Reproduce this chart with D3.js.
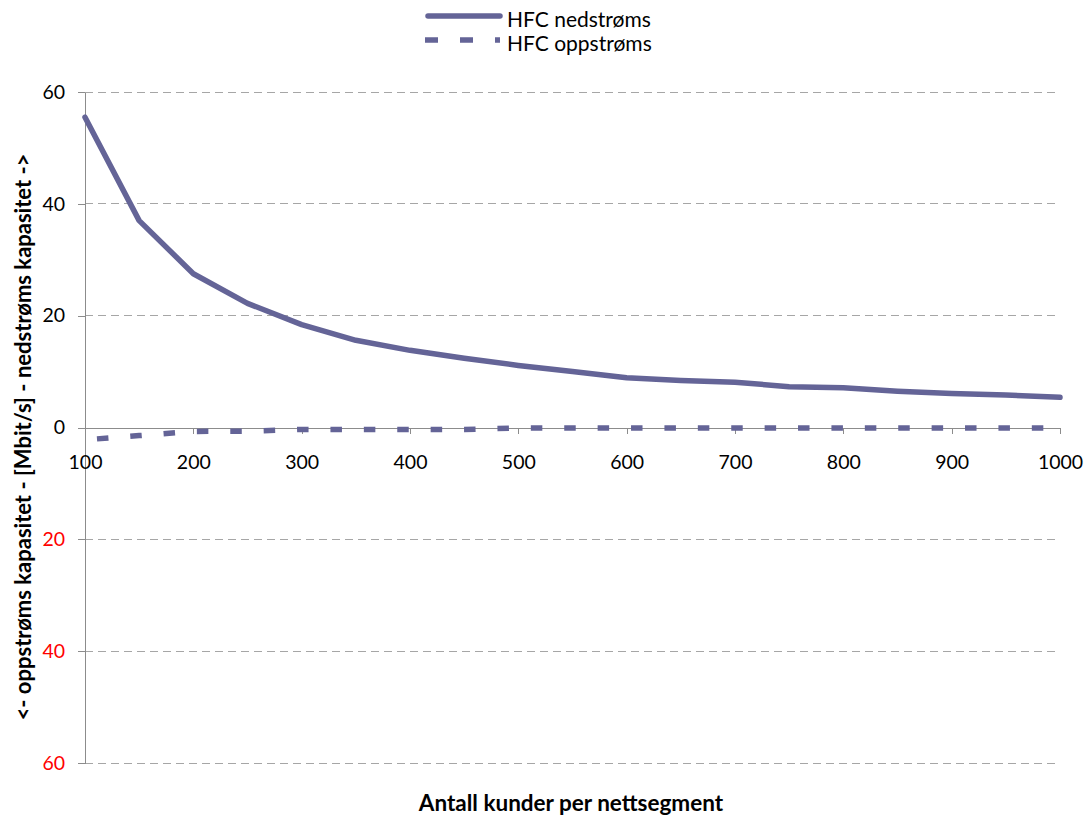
<!DOCTYPE html>
<html>
<head>
<meta charset="utf-8">
<script src="https://cdn.jsdelivr.net/npm/d3@7/dist/d3.min.js"></script>
<style>
  html, body { margin: 0; padding: 0; background: #ffffff; }
  svg { display: block; }
  text { font-family: Lato, "Open Sans", "Liberation Sans", sans-serif; }
</style>
</head>
<body>
<svg id="chart" width="1087" height="816"></svg>
<script>
// Customers per network segment
const customers = [100, 150, 200, 250, 300, 350, 400, 450, 500, 550, 600, 650, 700, 750, 800, 850, 900, 950, 1000];
// Downstream capacity per customer (Mbit/s)
const downstream = [55.5, 37.0, 27.5, 22.2, 18.4, 15.6, 13.8, 12.4, 11.1, 10.0, 8.9, 8.4, 8.1, 7.3, 7.1, 6.5, 6.1, 5.8, 5.4];
// Upstream capacity per customer (Mbit/s), drawn below zero
const upstream = [-2.2, -1.45, -0.7, -0.65, -0.35, -0.35, -0.35, -0.35, -0.1, -0.1, -0.1, -0.1, -0.1, -0.1, -0.1, -0.1, -0.1, -0.1, -0.1];
const xTicks = [100, 200, 300, 400, 500, 600, 700, 800, 900, 1000];
const yTicks = [-60, -40, -20, 0, 20, 40, 60];
const seriesNames = ["HFC nedstrøms", "HFC oppstrøms"];
const yTitle = "<- oppstrøms kapasitet - [Mbit/s] - nedstrøms kapasitet ->";
const xTitle = "Antall kunder per nettsegment";

const lineColor = "#646497";
const gridColor = "#a6a6a6";
const axisColor = "#8c8c8c";

const svg = d3.select("#chart");
const x = d3.scaleLinear().domain([100, 1000]).range([85, 1060]);
const y = d3.scaleLinear().domain([-60, 60]).range([763, 92]);

// Horizontal gridlines
svg.append("g").selectAll("line")
  .data(yTicks.filter(d => d !== 0))
  .join("line")
  .attr("x1", x(100)).attr("x2", x(1000))
  .attr("y1", d => y(d)).attr("y2", d => y(d))
  .attr("stroke", gridColor).attr("stroke-width", 1)
  .attr("stroke-dasharray", "8,5")
  .attr("shape-rendering", "crispEdges");

// Y axis: upper half downstream, lower half upstream (shown as positive, in red)
const yAxis = svg.append("g")
  .attr("transform", `translate(${x(100)},0)`)
  .call(d3.axisLeft(y).tickValues(yTicks).tickSize(7).tickSizeOuter(0).tickPadding(13)
    .tickFormat(d => Math.abs(d)));
yAxis.select(".domain").attr("stroke", axisColor).attr("shape-rendering", "crispEdges");
yAxis.selectAll(".tick line").attr("stroke", axisColor).attr("shape-rendering", "crispEdges");
yAxis.selectAll(".tick text")
  .attr("font-size", 19.5)
  .attr("font-family", "Lato, 'Open Sans', sans-serif")
  .attr("fill", d => d < 0 ? "#ff0000" : "#000000");

// X axis along the zero line
const xAxis = svg.append("g")
  .attr("transform", `translate(0,${y(0)})`)
  .call(d3.axisBottom(x).tickValues(xTicks).tickSize(6).tickSizeOuter(0).tickPadding(22)
    .tickFormat(d3.format("d")));
xAxis.select(".domain").attr("stroke", axisColor).attr("shape-rendering", "crispEdges");
xAxis.selectAll(".tick line").attr("stroke", axisColor).attr("shape-rendering", "crispEdges");
xAxis.selectAll(".tick text")
  .attr("font-size", 19.5)
  .attr("font-family", "Lato, 'Open Sans', sans-serif")
  .attr("fill", "#000");

// Series lines
const line = d3.line().x((d, i) => x(customers[i])).y(d => y(d));

svg.append("path")
  .datum(downstream)
  .attr("d", line)
  .attr("fill", "none")
  .attr("stroke", lineColor)
  .attr("stroke-width", 5.5)
  .attr("stroke-linejoin", "round")
  .attr("stroke-linecap", "round");

svg.append("path")
  .datum(upstream)
  .attr("d", line)
  .attr("fill", "none")
  .attr("stroke", lineColor)
  .attr("stroke-width", 5.5)
  .attr("stroke-dasharray", "11.5,21.9")
  .attr("stroke-dashoffset", 21.4);

// Legend
const legend = svg.append("g");
legend.append("line")
  .attr("x1", 428).attr("x2", 500).attr("y1", 16).attr("y2", 16)
  .attr("stroke", lineColor).attr("stroke-width", 5.5).attr("stroke-linecap", "round");
legend.append("line")
  .attr("x1", 425).attr("x2", 500).attr("y1", 40).attr("y2", 40)
  .attr("stroke", lineColor).attr("stroke-width", 5.5)
  .attr("stroke-dasharray", "13,22");
legend.selectAll("text")
  .data(seriesNames)
  .join("text")
  .attr("x", 507)
  .attr("y", (d, i) => 27 + i * 24)
  .attr("font-size", 21)
  .attr("fill", "#000")
  .text(d => d);

// Axis titles
svg.append("text")
  .attr("transform", `translate(31,437) rotate(-90)`)
  .attr("text-anchor", "middle")
  .attr("font-size", 22)
  .attr("font-weight", "bold")
  .attr("fill", "#000")
  .text(yTitle);

svg.append("text")
  .attr("x", 571)
  .attr("y", 811)
  .attr("text-anchor", "middle")
  .attr("font-size", 22.5)
  .attr("font-weight", "bold")
  .attr("fill", "#000")
  .text(xTitle);
</script>
</body>
</html>
